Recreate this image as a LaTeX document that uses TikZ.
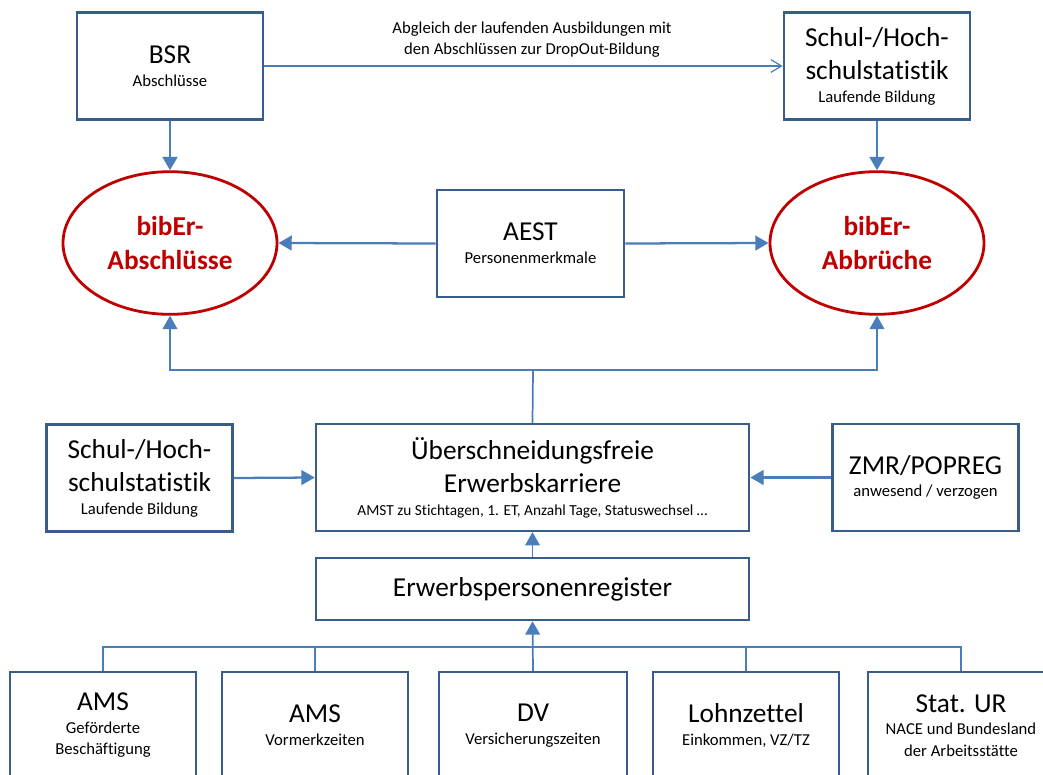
\documentclass[tikz,border=0pt]{standalone}
\usepackage{fontspec}
\setmainfont{Carlito}[Ligatures={NoCommon,NoContextual}]
\usetikzlibrary{shapes.geometric, arrows.meta, positioning}
\definecolor{cBox}{RGB}{56,93,138}
\definecolor{cLine}{RGB}{74,126,187}
\definecolor{cRed}{RGB}{192,0,0}
\newcommand{\mainf}{\fontsize{20.5}{25}\selectfont}
\newcommand{\subf}{\fontsize{12.5}{15}\selectfont}
\tikzset{
	box/.style     ={rectangle, draw=cBox, line width=1.9pt, fill=white, minimum width=139.5pt, minimum height=80pt, inner sep=2pt, align=center, font=\mainf},
	oval/.style    ={ellipse, draw=cRed, line width=2.1pt, fill=white, minimum width=160.5pt, minimum height=107pt, inner sep=0pt, align=center, text=cRed, font=\fontsize{20.5}{25}\selectfont\bfseries},
	arr/.style     ={-{Triangle[length=10pt, width=11pt]}, cLine, line width=1.7pt},
	arrthin/.style ={-{Triangle[length=10pt, width=11pt]}, cLine, line width=1.3pt},
	bus/.style     ={cLine, line width=1.3pt},
	note/.style    ={align=center, font=\fontsize{12.5}{15.75}\selectfont},
}
\begin{document}
\begin{tikzpicture}[x=0.75pt, y=-0.75pt]
	\useasboundingbox (0,0) rectangle (1043,775);
	\clip (0,0) rectangle (1043,775);
	% top sources
	\node[box] (bsr) at (170,66) {BSR\\[-8pt]{\subf Abschlüsse}};
	\node[box] (hsT) at (877,66) {Schul-/Hoch-\\schulstatistik\\[-8pt]{\subf Laufende Bildung}};
	\draw[cLine, line width=0.9pt, -{Straight Barb[length=8pt, width=9.5pt]}] (bsr.east) -- (hsT.west);
	\node[note] (lbl) at (532,40) {Abgleich der laufenden Ausbildungen mit\\den Abschlüssen zur DropOut-Bildung};
	% results
	\node[oval] (abs) at (170,243) {bibEr-\\Abschlüsse};
	\node[oval] (abb) at (877,243) {bibEr-\\Abbrüche};
	\node[box, minimum width=140.25pt] (aest) at (530.5,243.5) {AEST\\[-8pt]{\subf Personenmerkmale}};
	\draw[arr, line width=2.1pt] (bsr.south) -- (abs.north);
	\draw[arr, line width=2.1pt] (hsT.south) -- (abb.north);
	\draw[arr] (aest.west) -- (abs.east);
	\draw[arr] (aest.east) -- (abb.west);
	% middle row
	\node[box] (hsL) at (139.5,478) {Schul-/Hoch-\\schulstatistik\\[-8pt]{\subf Laufende Bildung}};
	\node[box, minimum width=324.75pt] (ueb) at (532.5,477.5) {Überschneidungsfreie\\Erwerbskarriere\\[-8pt]{\fontsize{11.5}{14}\selectfont AMST zu Stichtagen, 1. ET, Anzahl Tage, Statuswechsel …}};
	\node[box] (zmr) at (925.5,477.5) {ZMR/POPREG\\[-8pt]{\subf anwesend / verzogen}};
	\draw[arr] (hsL.east) -- (ueb.west);
	\draw[arr] (zmr.west) -- (ueb.east);
	\coordinate (tj) at (533,370);
	\draw[bus] (ueb.north) -- (tj);
	\draw[arrthin] (tj) -| (abs.south);
	\draw[arrthin] (tj) -| (abb.south);
	% register
	\node[box, minimum width=324.75pt, minimum height=46.5pt] (epr) at (532.5,589) {Erwerbspersonenregister};
	\draw[arrthin] (epr.north) -- (ueb.south);
	% bottom sources
	\node[box] (ams1) at (103,725.5) {AMS\\[-8pt]{\subf Geförderte}\\[-9pt]{\subf Beschäftigung}};
	\node[box] (ams2) at (315,725.5) {AMS\\[-8pt]{\subf Vormerkzeiten}};
	\node[box, minimum width=141pt] (dv) at (533,725.5) {DV\\[-8pt]{\subf Versicherungszeiten}};
	\node[box] (lz) at (746,725.5) {Lohnzettel\\[-8pt]{\subf Einkommen, VZ/TZ}};
	\node[box] (ur) at (961,725.5) {Stat. UR\\[-8pt]{\subf NACE und Bundesland}\\[-9pt]{\subf der Arbeitsstätte}};
	\coordinate (bj) at (533,647);
	\draw[bus] (ams1.north) |- (bj) -| (ur.north);
	\draw[bus] (ams2.north) -- (ams2.north |- bj);
	\draw[bus] (lz.north) -- (lz.north |- bj);
	\draw[arrthin] (dv.north) -- (epr.south);
\end{tikzpicture}
\end{document}
